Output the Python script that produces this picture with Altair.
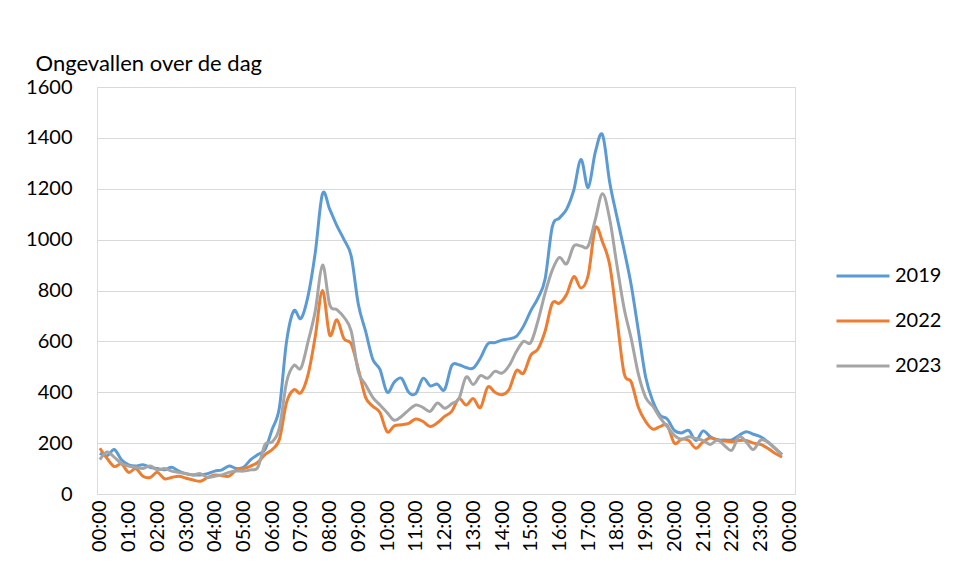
import altair as alt
import pandas as pd

years = ["2019", "2022", "2023"]
colors = ["#5B9BD5", "#ED7D31", "#A5A5A5"]

v2019 = [160, 150, 175, 135, 115, 110, 115, 105, 100, 95, 105, 90,
         80, 75, 75, 80, 90, 95, 110, 100, 105, 135, 155, 175,
         255, 340, 600, 720, 690, 780, 950, 1180, 1120, 1055, 1000, 935,
         745, 640, 530, 490, 400, 440, 455, 400, 395, 455, 425, 432,
         410, 505, 508, 497, 495, 535, 590, 595, 605, 610, 620, 660,
         720, 770, 845, 1050, 1085, 1120, 1195, 1315, 1205, 1345, 1412, 1225,
         1090, 960, 820, 640, 460, 365, 310, 295, 250, 240, 250, 210,
         248, 225, 213, 212, 213, 230, 245, 235, 225, 205, 180, 155]

v2022 = [180, 140, 108, 118, 85, 100, 70, 65, 85, 60, 65, 70,
         62, 55, 50, 65, 75, 72, 70, 95, 100, 110, 125, 155,
         175, 215, 360, 410, 398, 470, 620, 800, 625, 685, 610, 590,
         490, 380, 345, 320, 245, 268, 272, 278, 295, 285, 265, 280,
         305, 325, 375, 350, 375, 340, 420, 400, 390, 412, 485, 475,
         545, 570, 640, 750, 750, 785, 855, 810, 860, 1045, 990, 900,
         690, 475, 440, 340, 285, 255, 265, 270, 200, 215, 210, 180,
         205, 220, 212, 208, 205, 210, 210, 200, 195, 180, 160, 145]

v2023 = [135, 165, 145, 120, 110, 105, 100, 110, 95, 100, 90, 85,
         80, 75, 80, 65, 70, 75, 85, 90, 90, 95, 105, 195,
         205, 260, 440, 505, 495, 600, 720, 900, 745, 725, 695, 640,
         480, 430, 380, 350, 320, 290, 305, 330, 350, 340, 325, 358,
         337, 355, 375, 460, 430, 465, 455, 482, 475, 505, 560, 600,
         595, 680, 790, 880, 930, 905, 975, 975, 975, 1080, 1180, 1080,
         900, 730, 610, 470, 380, 345, 300, 265, 230, 215, 225, 218,
         210, 195, 212, 190, 172, 225, 205, 175, 212, 205, 180, 155]

hour_ticks = list(range(25))
y_ticks = [0, 200, 400, 600, 800, 1000, 1200, 1400, 1600]

rows = []
for yr, vals in zip(years, [v2019, v2022, v2023]):
    for i, v in enumerate(vals):
        rows.append({"uur": i * 0.25, "jaar": yr, "aantal": v})
df = pd.DataFrame(rows)

FONT = "Lato"

chart = alt.Chart(df).mark_line(strokeWidth=3, interpolate="cardinal").encode(
    x=alt.X("uur:Q",
            scale=alt.Scale(domain=[-0.1, 24.2], nice=False, zero=False),
            axis=alt.Axis(values=hour_ticks, title=None, grid=False,
                          labelAngle=-90, labelFontSize=20, labelFont=FONT,
                          labelColor="#000000", labelPadding=6,
                          ticks=False, tickSize=0,
                          domainColor="#D9D9D9", domainWidth=1,
                          labelOverlap=False, labelFlush=False,
                          labelExpr="(datum.value % 24 < 10 ? '0' : '') + (datum.value % 24) + ':00'")),
    y=alt.Y("aantal:Q",
            scale=alt.Scale(domain=[0, 1600], nice=False),
            axis=alt.Axis(values=y_ticks, format="d", title="Ongevallen over de dag",
                          titleAngle=0, titleX=-62, titleY=-17,
                          titleAlign="left", titleBaseline="alphabetic",
                          titleFont=FONT, titleFontSize=22, titleFontWeight="normal",
                          titleColor="#000000",
                          labelFont=FONT, labelFontSize=20, labelColor="#000000",
                          labelPadding=25, ticks=False, tickSize=0, domain=False,
                          grid=True, gridColor="#D9D9D9", gridWidth=1)),
    color=alt.Color("jaar:N",
                    scale=alt.Scale(domain=years, range=colors),
                    legend=alt.Legend(title=None, orient="none",
                                      legendX=738, legendY=161,
                                      symbolType="stroke", symbolSize=2809,
                                      symbolStrokeWidth=3,
                                      labelFont=FONT, labelFontSize=20,
                                      labelColor="#000000", labelOffset=4,
                                      rowPadding=7)),
).properties(
    width=698,
    height=407,
    autosize=alt.AutoSizeParams(type="none"),
    padding={"left": 89, "top": 79, "right": 150, "bottom": 75},
).configure_view(stroke=None).configure(background="white")

chart.save("out.html", embed_options={"renderer": "svg", "actions": False})
